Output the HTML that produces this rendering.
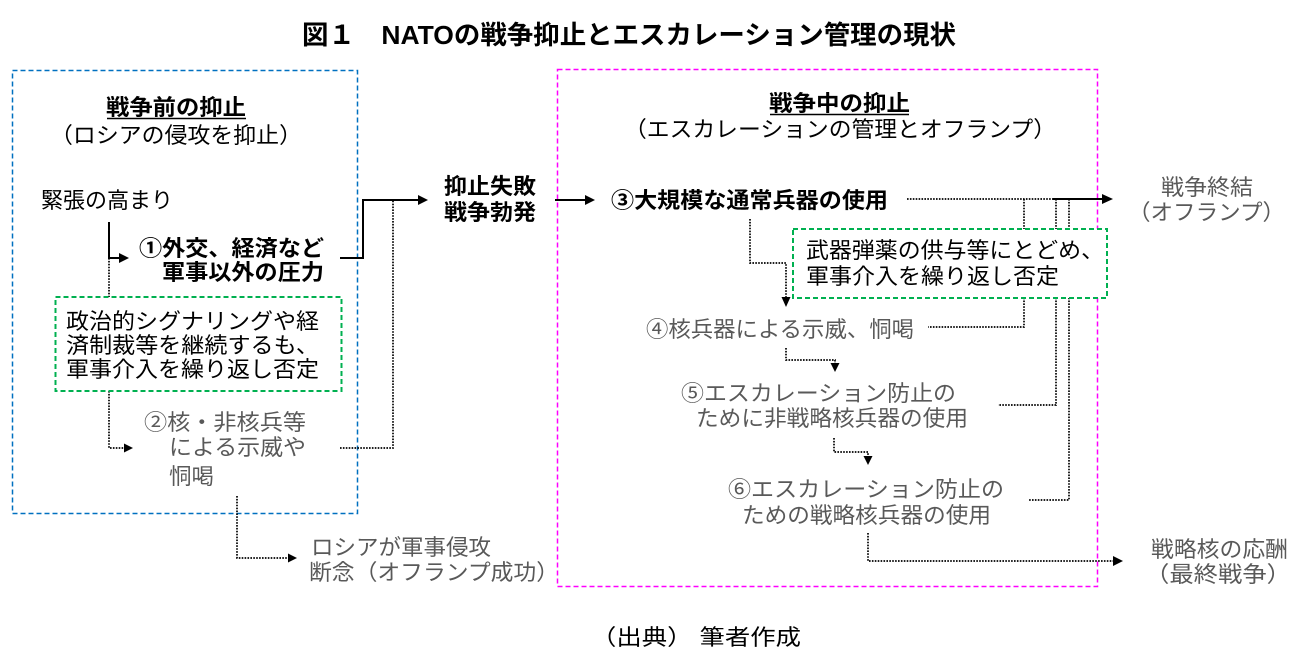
<!DOCTYPE html>
<html lang="ja">
<head>
<meta charset="utf-8">
<style>
  html,body{margin:0;padding:0;background:#fff;}
  body{width:1298px;height:663px;overflow:hidden;}
  svg{display:block;}
  text{font-family:"Liberation Sans","Noto Sans CJK JP",sans-serif;font-size:22px;}
  .b{font-weight:bold;fill:#000;}
  .k{fill:#000;}
  .g{fill:#595959;}
</style>
</head>
<body>
<svg width="1298" height="663" viewBox="0 0 1298 663" xmlns="http://www.w3.org/2000/svg">
  <!-- Title -->
  <text x="302" y="44" class="b" style="font-size:26px" textLength="654" lengthAdjust="spacingAndGlyphs">図１　NATOの戦争抑止とエスカレーション管理の現状</text>

  <!-- Boxes -->
  <rect x="12.5" y="70.5" width="345" height="443" fill="none" stroke="#0070c0" stroke-width="1.5" stroke-dasharray="5 3"/>
  <rect x="557.5" y="69.5" width="540" height="517" fill="none" stroke="#ff00ff" stroke-width="1.5" stroke-dasharray="5 3"/>

  <!-- Solid connectors -->
  <g stroke="#000" stroke-width="2" fill="none">
    <polyline points="109,222 109,258 121,258"/>
    <polyline points="340,258 363,258 363,200 419,200"/>
    <line x1="555" y1="200" x2="586" y2="200"/>
    <line x1="1053" y1="199" x2="1103" y2="199"/>
  </g>
  <g fill="#000">
    <polygon points="129,258 119,253 119,263"/>
    <polygon points="428,200 418,195 418,205"/>
    <polygon points="595,200 585,195 585,205"/>
    <polygon points="1113,199 1102,194 1102,204"/>
  </g>

  <!-- Dotted connectors -->
  <g stroke="#000" stroke-width="1.7" fill="none" stroke-dasharray="1.6 1.3">
    <line x1="109" y1="258" x2="109" y2="297"/>
    <polyline points="109,391 109,448 125,448"/>
    <polyline points="340,448 393,448 393,200"/>
    <polyline points="237,496 237,558 288,558"/>
    <line x1="907" y1="199" x2="1053" y2="199"/>
    <polyline points="1024,199 1024,327 928,327"/>
    <polyline points="1056,199 1056,405 998,405"/>
    <polyline points="1069,199 1069,500 1028,500"/>
    <polyline points="750,219 750,263 786,263 786,298"/>
    <polyline points="786,348 786,360 835,360 835,364"/>
    <polyline points="834,438 834,452 868,452 868,456"/>
    <polyline points="868,533 868,561 1113,561"/>
  </g>
  <g fill="#000">
    <polygon points="133,448 124,443.5 124,452.5"/>
    <polygon points="297,558 288,553.5 288,562.5"/>
    <polygon points="786,307 781.5,297 790.5,297"/>
    <polygon points="835,372 830.5,363 839.5,363"/>
    <polygon points="868,465 863.5,456 872.5,456"/>
    <polygon points="1123,561 1113,556 1113,566"/>
  </g>

  <!-- Green boxes (white fill to cover lines) -->
  <rect x="55.5" y="297" width="286" height="94" fill="#fff" stroke="#00b050" stroke-width="2" stroke-dasharray="5 3"/>
  <rect x="793" y="229" width="314" height="69" fill="#fff" stroke="#00b050" stroke-width="2" stroke-dasharray="5 3"/>

  <!-- Left box texts -->
  <text x="106" y="115" class="b" textLength="140" lengthAdjust="spacingAndGlyphs">戦争前の抑止</text>
  <line x1="107" y1="118.5" x2="246" y2="118.5" stroke="#000" stroke-width="1.5"/>
  <text x="50" y="143" class="k" textLength="252" lengthAdjust="spacingAndGlyphs">（ロシアの侵攻を抑止）</text>

  <text x="41" y="208" class="k" textLength="132" lengthAdjust="spacingAndGlyphs">緊張の高まり</text>
  <text x="139" y="256" class="b" textLength="185" lengthAdjust="spacingAndGlyphs">①外交、経済など</text>
  <text x="162" y="280" class="b" textLength="162" lengthAdjust="spacingAndGlyphs">軍事以外の圧力</text>

  <text x="66" y="329" class="k" textLength="253" lengthAdjust="spacingAndGlyphs">政治的シグナリングや経</text>
  <text x="66" y="353" class="k" textLength="253" lengthAdjust="spacingAndGlyphs">済制裁等を継続するも、</text>
  <text x="66" y="377" class="k" textLength="253" lengthAdjust="spacingAndGlyphs">軍事介入を繰り返し否定</text>

  <text x="144" y="430" class="g" textLength="162" lengthAdjust="spacingAndGlyphs">②核・非核兵等</text>
  <text x="169" y="455" class="g" textLength="137" lengthAdjust="spacingAndGlyphs">による示威や</text>
  <text x="169" y="484" class="g" textLength="45" lengthAdjust="spacingAndGlyphs">恫喝</text>

  <text x="311" y="555" class="g" textLength="180" lengthAdjust="spacingAndGlyphs">ロシアが軍事侵攻</text>
  <text x="309" y="580" class="g" textLength="250" lengthAdjust="spacingAndGlyphs">断念（オフランプ成功）</text>

  <!-- Middle -->
  <text x="444" y="194" class="b" textLength="92" lengthAdjust="spacingAndGlyphs">抑止失敗</text>
  <text x="444" y="220" class="b" textLength="92" lengthAdjust="spacingAndGlyphs">戦争勃発</text>

  <!-- Right box texts -->
  <text x="769" y="111" class="b" textLength="141" lengthAdjust="spacingAndGlyphs">戦争中の抑止</text>
  <line x1="770" y1="114.5" x2="909" y2="114.5" stroke="#000" stroke-width="1.5"/>
  <text x="624" y="137" class="k" textLength="432" lengthAdjust="spacingAndGlyphs">（エスカレーションの管理とオフランプ）</text>

  <text x="611" y="208" class="b" textLength="277" lengthAdjust="spacingAndGlyphs">③大規模な通常兵器の使用</text>

  <text x="806" y="258" class="k" textLength="298" lengthAdjust="spacingAndGlyphs">武器弾薬の供与等にとどめ、</text>
  <text x="806" y="284" class="k" textLength="253" lengthAdjust="spacingAndGlyphs">軍事介入を繰り返し否定</text>

  <text x="646" y="337" class="g" textLength="268" lengthAdjust="spacingAndGlyphs">④核兵器による示威、恫喝</text>

  <text x="681" y="401" class="g" textLength="275" lengthAdjust="spacingAndGlyphs">⑤エスカレーション防止の</text>
  <text x="696" y="426" class="g" textLength="272" lengthAdjust="spacingAndGlyphs">ために非戦略核兵器の使用</text>

  <text x="728" y="497" class="g" textLength="276" lengthAdjust="spacingAndGlyphs">⑥エスカレーション防止の</text>
  <text x="742" y="523" class="g" textLength="249" lengthAdjust="spacingAndGlyphs">ための戦略核兵器の使用</text>

  <!-- Far right -->
  <text x="1161" y="195" class="g" textLength="92" lengthAdjust="spacingAndGlyphs">戦争終結</text>
  <text x="1128" y="220" class="g" textLength="157" lengthAdjust="spacingAndGlyphs">（オフランプ）</text>

  <text x="1151" y="557" class="g" textLength="137" lengthAdjust="spacingAndGlyphs">戦略核の応酬</text>
  <text x="1145" y="582" class="g" textLength="146" lengthAdjust="spacingAndGlyphs">（最終戦争）</text>

  <!-- Footer -->
  <text x="591" y="645" class="k" textLength="210" lengthAdjust="spacingAndGlyphs">（出典） 筆者作成</text>
</svg>
</body>
</html>
